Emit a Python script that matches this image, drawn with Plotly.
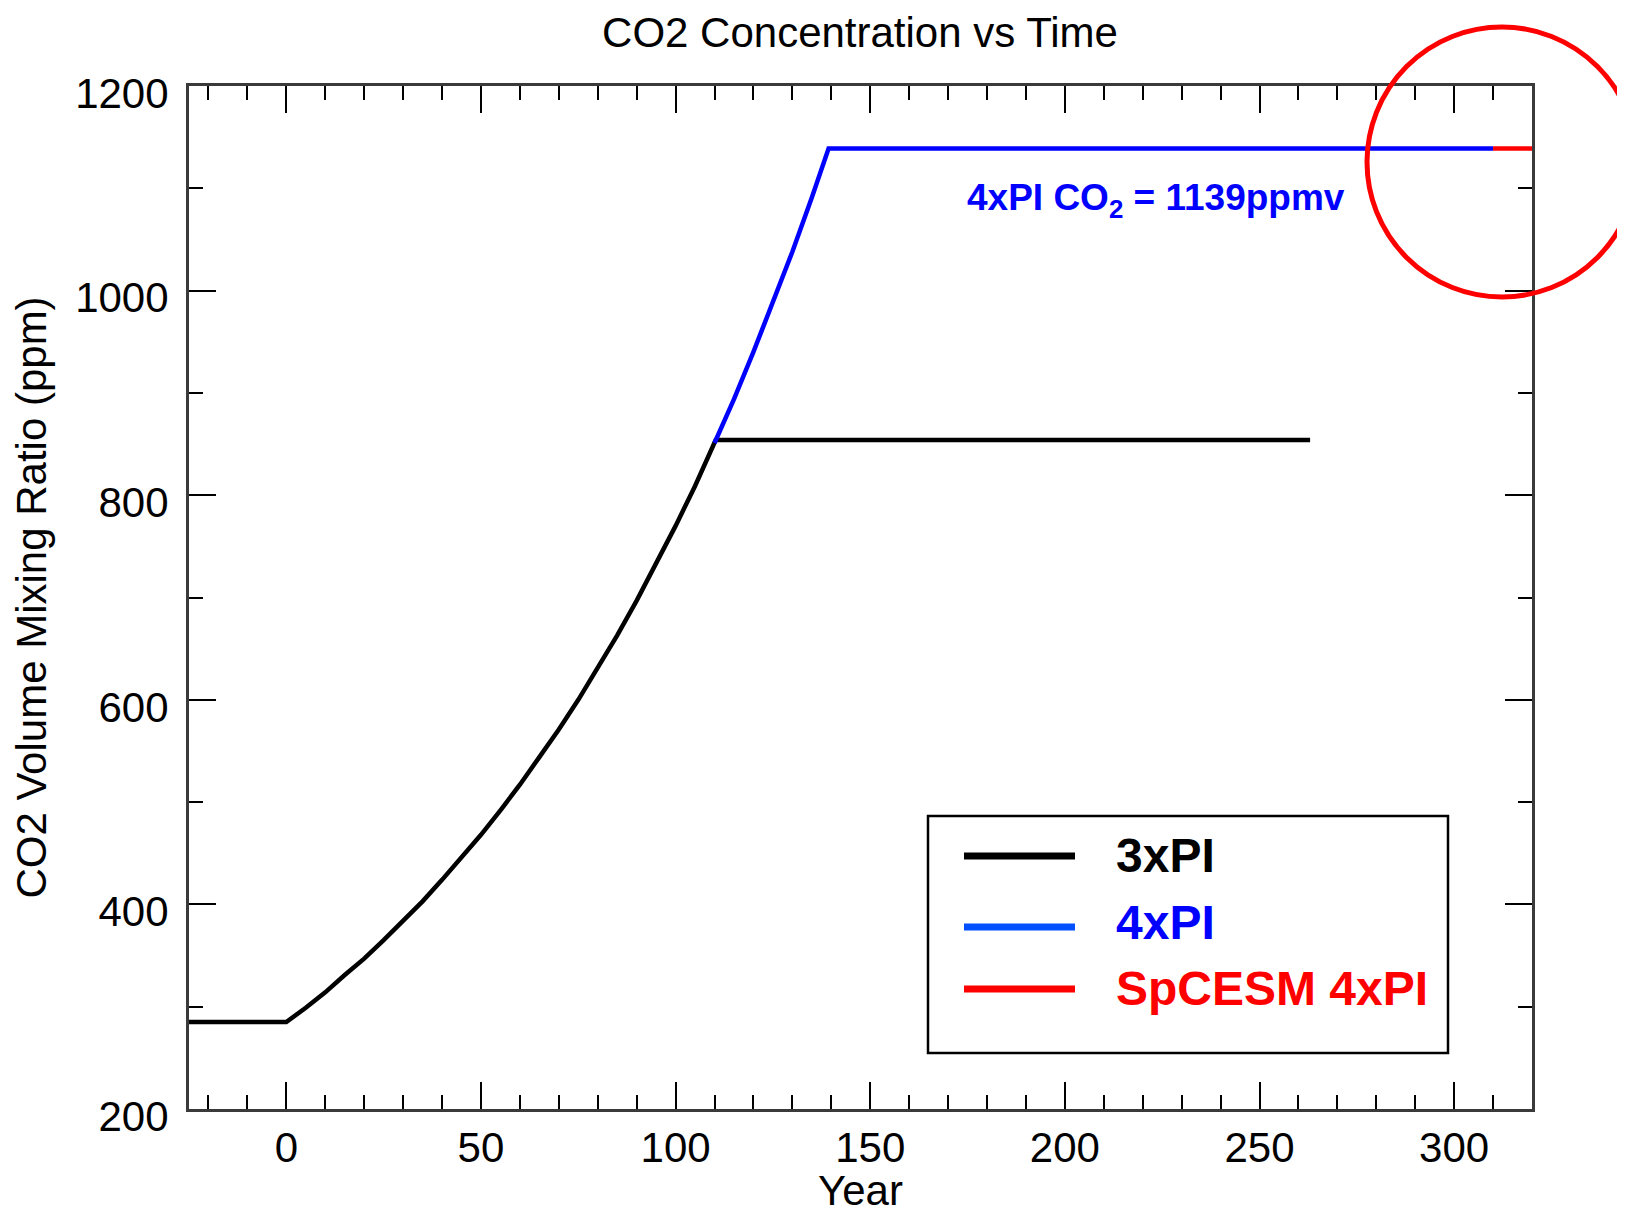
import plotly.graph_objects as go

# ---- data ----
years_3x = [-25, 0, 5, 10, 15, 20, 25, 30, 35, 40, 45, 50, 55, 60, 65, 70, 75, 80, 85, 90, 95, 100, 105, 110, 110.3, 263]
co2_3x = [285, 285, 299, 314, 331, 347, 365, 384, 403, 424, 446, 468, 492, 517, 544, 571, 600, 631, 663, 697, 733, 770, 809, 851, 854, 854]

years_4x = [110, 115, 120, 125, 130, 135, 139.3, 310]
co2_4x = [851, 894, 940, 988, 1038, 1091, 1139, 1139]

years_sp = [310, 320]
co2_sp = [1139, 1139]

series_names = ["3xPI", "4xPI", "SpCESM 4xPI"]
series_colors = ["#000000", "#0000ff", "#ff0000"]
legend_line_colors = ["#000000", "#0050ff", "#ff0000"]

x_range = [-25, 320]
y_range = [200, 1200]
annot_text = "4xPI CO<sub>2</sub> = 1139ppmv"

FONT = "Liberation Sans, Arial, Helvetica, sans-serif"

# page body has an 8px margin; compensate so screen positions match
OFF = 8
W, H = 1625 - OFF, 1214 - OFF
L, R, T, B = 189 - OFF, 1532 - OFF, 86 - OFF, 1109 - OFF
pw, ph = R - L, B - T


def px(x):
    return (x - OFF - L) / pw


def py(y):
    return (B - (y - OFF)) / ph


fig = go.Figure()
for xs, ys, name, col in [
    (years_3x, co2_3x, series_names[0], series_colors[0]),
    (years_4x, co2_4x, series_names[1], series_colors[1]),
    (years_sp, co2_sp, series_names[2], series_colors[2]),
]:
    fig.add_trace(go.Scatter(x=xs, y=ys, mode="lines", name=name,
                             line=dict(color=col, width=4.5), showlegend=False))

axis_common = dict(
    showgrid=False, zeroline=False, showline=True, linecolor="#3a3a3a",
    linewidth=3, mirror="allticks", ticks="inside", ticklen=27,
    tickwidth=2, tickcolor="black", automargin=False,
    tickfont=dict(family=FONT, size=42, color="black"),
    title_font=dict(family=FONT, size=42, color="black"),
)

fig.update_xaxes(range=x_range, tick0=0, dtick=50,
                 minor=dict(tick0=0, dtick=10, ticklen=14, tickwidth=2,
                            tickcolor="black", ticks="inside", showgrid=False),
                 title_text="Year", title_standoff=14, **axis_common)
fig.update_yaxes(range=y_range, tick0=200, dtick=200, ticklabelstandoff=9,
                 ticklabelshift=7,
                 minor=dict(tick0=0, dtick=100, ticklen=14, tickwidth=2,
                            tickcolor="black", ticks="inside", showgrid=False),
                 title_text="CO2 Volume Mixing Ratio (ppm)", title_standoff=16,
                 **axis_common)

shapes = []
# red highlight circle
shapes.append(dict(type="circle", xref="paper", yref="paper",
                   x0=px(1367), x1=px(1637), y0=py(297), y1=py(27),
                   line=dict(color="#ff0000", width=5)))
# legend box
shapes.append(dict(type="rect", xref="paper", yref="paper",
                   x0=px(928), x1=px(1448), y0=py(1053), y1=py(816),
                   line=dict(color="black", width=2.5), fillcolor="white", layer="above"))
legend_y = [856, 927, 989]
for yy, col in zip(legend_y, legend_line_colors):
    shapes.append(dict(type="line", xref="paper", yref="paper",
                       x0=px(964), x1=px(1075), y0=py(yy), y1=py(yy),
                       line=dict(color=col, width=7), layer="above"))

annotations = []
for yy, name, col in zip([855, 923, 988], series_names, series_colors):
    annotations.append(dict(xref="paper", yref="paper", x=px(1114), y=py(yy),
                            text=f"<b>{name}</b>", showarrow=False,
                            xanchor="left", yanchor="middle",
                            font=dict(family=FONT, size=48, color=col)))
annotations.append(dict(x=223.5, y=1089, xref="x", yref="y", text=f"<b>{annot_text}</b>",
                        showarrow=False, xanchor="center", yanchor="middle",
                        font=dict(family=FONT, size=37, color="#0000ff")))

fig.update_layout(
    width=W, height=H,
    margin=dict(l=L, r=W - R, t=T, b=H - B),
    paper_bgcolor="white", plot_bgcolor="white",
    title=dict(text="CO2 Concentration vs Time", x=px(860), xref="paper",
               xanchor="center", y=1 - 24 / H, yanchor="middle",
               font=dict(family=FONT, size=42, color="black")),
    shapes=shapes, annotations=annotations,
    showlegend=False,
)

fig.write_html("out.html")
